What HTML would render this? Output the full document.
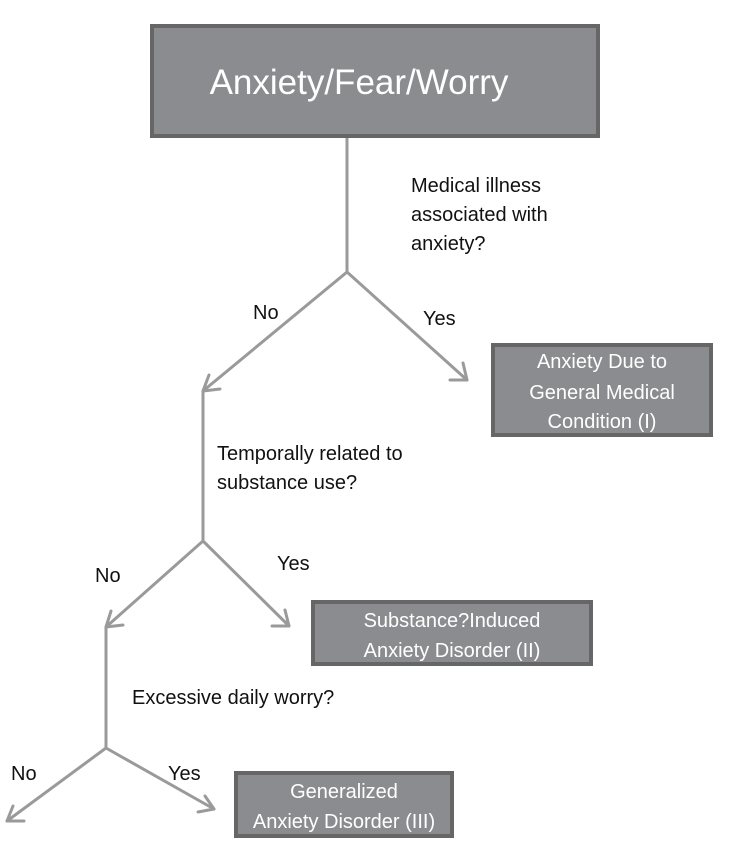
<!DOCTYPE html>
<html><head><meta charset="utf-8"><style>
html,body{margin:0;padding:0;background:#fff;}
svg{display:block;}
text{font-family:"Liberation Sans",sans-serif;}
</style></head><body>
<svg width="742" height="850" viewBox="0 0 742 850" xmlns="http://www.w3.org/2000/svg">
<g stroke="#9a9a9a" stroke-width="3" fill="none" stroke-linecap="round">
<path d="M347 138 V272 L203 391"/>
<path d="M203 391 l6 -16 M203 391 l17 -2"/>
<path d="M347 272 L467 380"/>
<path d="M467 380 l-4 -17 M467 380 l-17 0"/>
<path d="M203 391 V541 L106 627"/>
<path d="M106 627 l5 -16 M106 627 l17 -2"/>
<path d="M203 541 L289 626"/>
<path d="M289 626 l-4 -16 M289 626 l-17 0"/>
<path d="M106 627 V748 L7 821"/>
<path d="M7 821 l6 -15 M7 821 l17 0"/>
<path d="M106 748 L214 809"/>
<path d="M214 809 l-9 -13 M214 809 l-16 3"/>
</g>
<g fill="#8b8c8f" stroke="#666" stroke-width="4">
<rect x="152" y="26" width="446" height="110"/>
<rect x="493" y="345" width="218" height="90"/>
<rect x="313" y="602" width="278" height="62"/>
<rect x="236" y="773" width="216" height="63"/>
</g>
<g fill="#fff" text-anchor="middle">
<text x="359" y="94" font-size="35">Anxiety/Fear/Worry</text>
<text x="602" y="368" font-size="20">Anxiety Due to</text>
<text x="602" y="399" font-size="20">General Medical</text>
<text x="602" y="428" font-size="20">Condition (I)</text>
<text x="452" y="627" font-size="20">Substance?Induced</text>
<text x="452" y="657" font-size="20">Anxiety Disorder (II)</text>
<text x="344" y="798" font-size="20">Generalized</text>
<text x="344" y="828" font-size="20">Anxiety Disorder (III)</text>
</g>
<g fill="#111" font-size="20">
<text x="411" y="192">Medical illness</text>
<text x="411" y="221">associated with</text>
<text x="411" y="250">anxiety?</text>
<text x="253" y="319">No</text>
<text x="423" y="325">Yes</text>
<text x="217" y="460">Temporally related to</text>
<text x="217" y="489">substance use?</text>
<text x="95" y="582">No</text>
<text x="277" y="570">Yes</text>
<text x="132" y="704">Excessive daily worry?</text>
<text x="11" y="780">No</text>
<text x="168" y="780">Yes</text>
</g>
</svg>
</body></html>
